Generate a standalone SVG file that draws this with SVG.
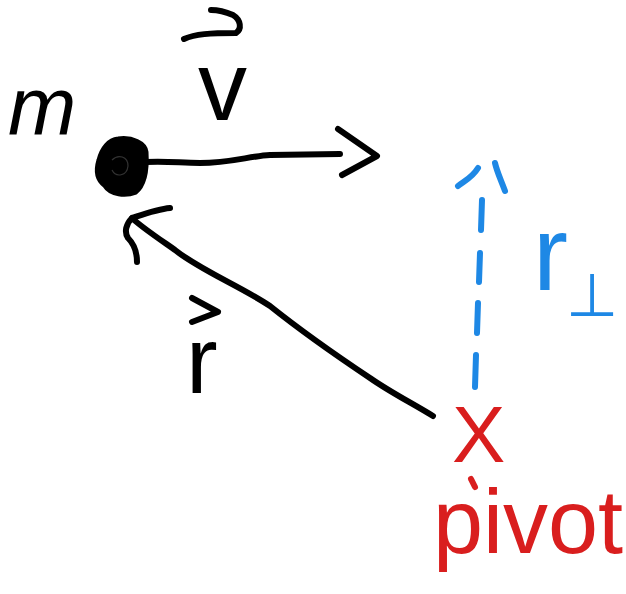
<svg xmlns="http://www.w3.org/2000/svg" width="626" height="594" viewBox="0 0 626 594">
<style>
.ink{fill:none;stroke:#000;stroke-width:6;stroke-linecap:round;stroke-linejoin:round}
.blue{fill:none;stroke:#1E88E5;stroke-width:6;stroke-linecap:round;stroke-linejoin:round}
.red{fill:none;stroke:#D91E1E;stroke-width:6;stroke-linecap:round;stroke-linejoin:round}
.t{font-family:"Liberation Sans",Arial,sans-serif}
</style>
<rect width="626" height="594" fill="#fff"/>
<g id="mass">
<path d="M118 138 C132 136 146 142 147 152 C148 168 146 185 136 193 C126 197 110 196 104 186 C96 180 95 170 98 160 C101 148 108 139 118 138 Z" fill="#000" stroke="#000" stroke-width="3"/>
<path d="M112 160 C118 154 128 156 128 166 C127 176 116 178 112 170" fill="none" stroke="#333" stroke-width="1.2"/>
<text class="t" x="8" y="134" font-size="82" font-style="italic" fill="#000">m</text>
</g>
<g id="pivot">
<text class="t" x="452" y="462" font-size="80" fill="#D91E1E">X</text>
<path class="red" d="M471 479 L475 487"/>
<text class="t" x="433" y="553" font-size="90" fill="#D91E1E">pivot</text>
</g>
<g id="connectors">
<g id="velocity">
<path class="ink" d="M146 162 C170 161 180 163 200 163 C230 163 250 156 270 155 L340 154"/>
<path class="ink" d="M338 129 L377 156 L342 175"/>
<path class="ink" d="M184 39 C195 34 210 33 236 33 C242 29 241 20 233 15 C226 12 218 10 211 10"/>
<text class="t" x="198" y="120" font-size="98" fill="#000">v</text>
</g>
<g id="radius">
<path class="ink" d="M433 416 C410 402 390 392 370 378 C340 358 300 330 270 306 C240 286 200 270 175 250 C155 236 140 226 132 218"/>
<path class="ink" d="M170 208 C158 209 144 214 132 218 C126 224 124 232 128 238 C134 244 137 252 137 262"/>
<path class="ink" d="M192 298 L218 312 L192 322"/>
<text class="t" x="186" y="393" font-size="95" fill="#000">r</text>
</g>
<g id="r-perp">
<path class="blue" d="M475 387 L476 355 M477 333 L478 303 M479 282 L480 253 M481 230 L482 200" />
<path class="blue" d="M458 186 C464 181 472 178 478 168"/>
<path class="blue" d="M495 163 C497 172 501 180 505 191"/>
<text class="t" x="533" y="290" font-size="105" fill="#1E88E5">r</text>
<text x="566" y="316" font-size="60" font-family="DejaVu Sans, sans-serif" fill="#1E88E5">⊥</text>
</g>
</g>
</svg>
